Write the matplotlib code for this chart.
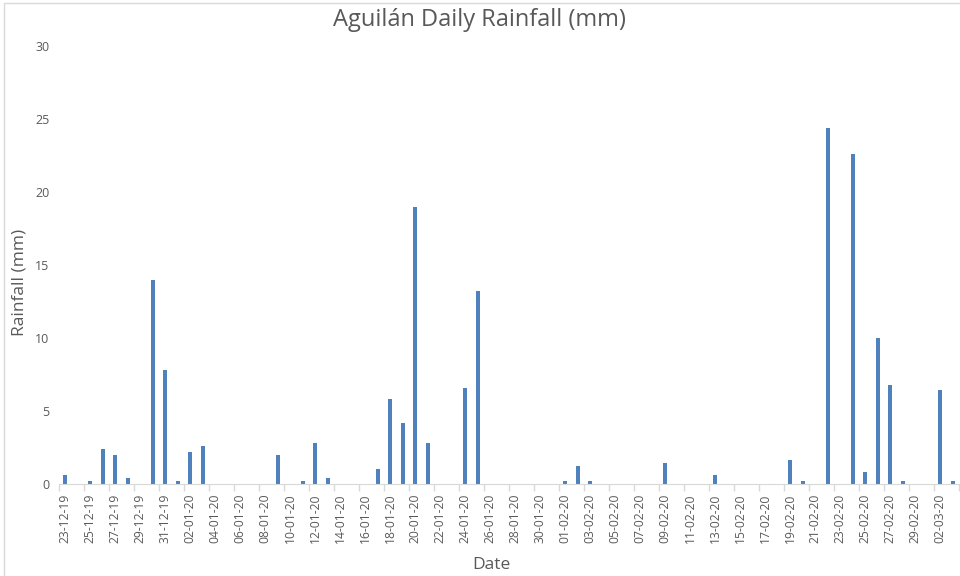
import matplotlib
matplotlib.use('Agg')
import matplotlib.pyplot as plt
from matplotlib.patches import Rectangle
import numpy as np
import pandas as pd

# daily rainfall, 23-12-19 .. 03-03-20
START_DATE = '2019-12-23'
N_DAYS = 72

rainfall = [
    0.6, 0.0, 0.2, 2.4, 2.0, 0.4, 0.0, 14.0, 7.8,           # 23-12 .. 31-12
    0.2, 2.2, 2.6, 0.0, 0.0, 0.0, 0.0, 0.0, 2.0, 0.0,       # 01-01 .. 10-01
    0.2, 2.8, 0.4, 0.0, 0.0, 0.0, 1.0, 5.8, 4.2, 19.0,      # 11-01 .. 20-01
    2.8, 0.0, 0.0, 6.6, 13.2, 0.0, 0.0, 0.0, 0.0, 0.0,      # 21-01 .. 30-01
    0.0,                                                    # 31-01
    0.2, 1.2, 0.2, 0.0, 0.0, 0.0, 0.0, 0.0, 1.4, 0.0,       # 01-02 .. 10-02
    0.0, 0.0, 0.6, 0.0, 0.0, 0.0, 0.0, 0.0, 1.6, 0.2,       # 11-02 .. 20-02
    0.0, 24.4, 0.0, 22.6, 0.8, 10.0, 6.8, 0.2, 0.0,         # 21-02 .. 29-02
    0.0, 6.4, 0.2,                                          # 01-03 .. 03-03
]

dates = pd.date_range(START_DATE, periods=N_DAYS, freq='D')
date_labels = [d.strftime('%d-%m-%y') for d in dates]

TITLE = 'Aguilán Daily Rainfall (mm)'
XLABEL = 'Date'
YLABEL = 'Rainfall (mm)'

BAR_COLOR = '#4F81BD'
TEXT_COLOR = '#595959'
AXIS_COLOR = '#D9D9D9'

plt.rcParams['font.family'] = ['Open Sans', 'DejaVu Sans']

fig = plt.figure(figsize=(9.6, 5.76), dpi=100)
ax = fig.add_axes([0.0615, 0.16, 0.9375, 0.76])

# faint chart-area border (only left/top visible in the crop)
fig.patches.append(Rectangle((4 / 960, -0.1), 1.2, 1 - 3 / 576 + 0.1,
                             transform=fig.transFigure, fill=False,
                             edgecolor=AXIS_COLOR, linewidth=1))

x = np.arange(len(rainfall))
ax.bar(x, rainfall, width=0.33, color=BAR_COLOR)

ax.set_xlim(-0.5, len(rainfall) - 0.5)
ax.set_ylim(0, 30)
ax.set_yticks(np.arange(0, 31, 5))

ax.set_xticks(x[::2])
ax.set_xticklabels(date_labels[::2], rotation=90, fontsize=8.7, color=TEXT_COLOR)
ax.set_xticks(np.arange(-0.5, len(rainfall), 2), minor=True)
ax.tick_params(axis='x', which='major', length=0, pad=7)
ax.tick_params(axis='x', which='minor', length=5, color=AXIS_COLOR, width=1)
ax.tick_params(axis='y', length=0, labelsize=9, labelcolor=TEXT_COLOR, pad=7)

for side in ['top', 'right', 'left']:
    ax.spines[side].set_visible(False)
ax.spines['bottom'].set_color(AXIS_COLOR)

fig.text(0.499, 1 - 20 / 576, TITLE, fontsize=17, color=TEXT_COLOR,
         ha='center', va='center')
fig.text(20 / 960, 1 - 282 / 576, YLABEL, fontsize=12.5, color=TEXT_COLOR,
         rotation=90, ha='center', va='center')
fig.text(491 / 960, 1 - 565 / 576, XLABEL, fontsize=12.5, color=TEXT_COLOR,
         ha='center', va='center')

fig.savefig('out.png', dpi=100)
